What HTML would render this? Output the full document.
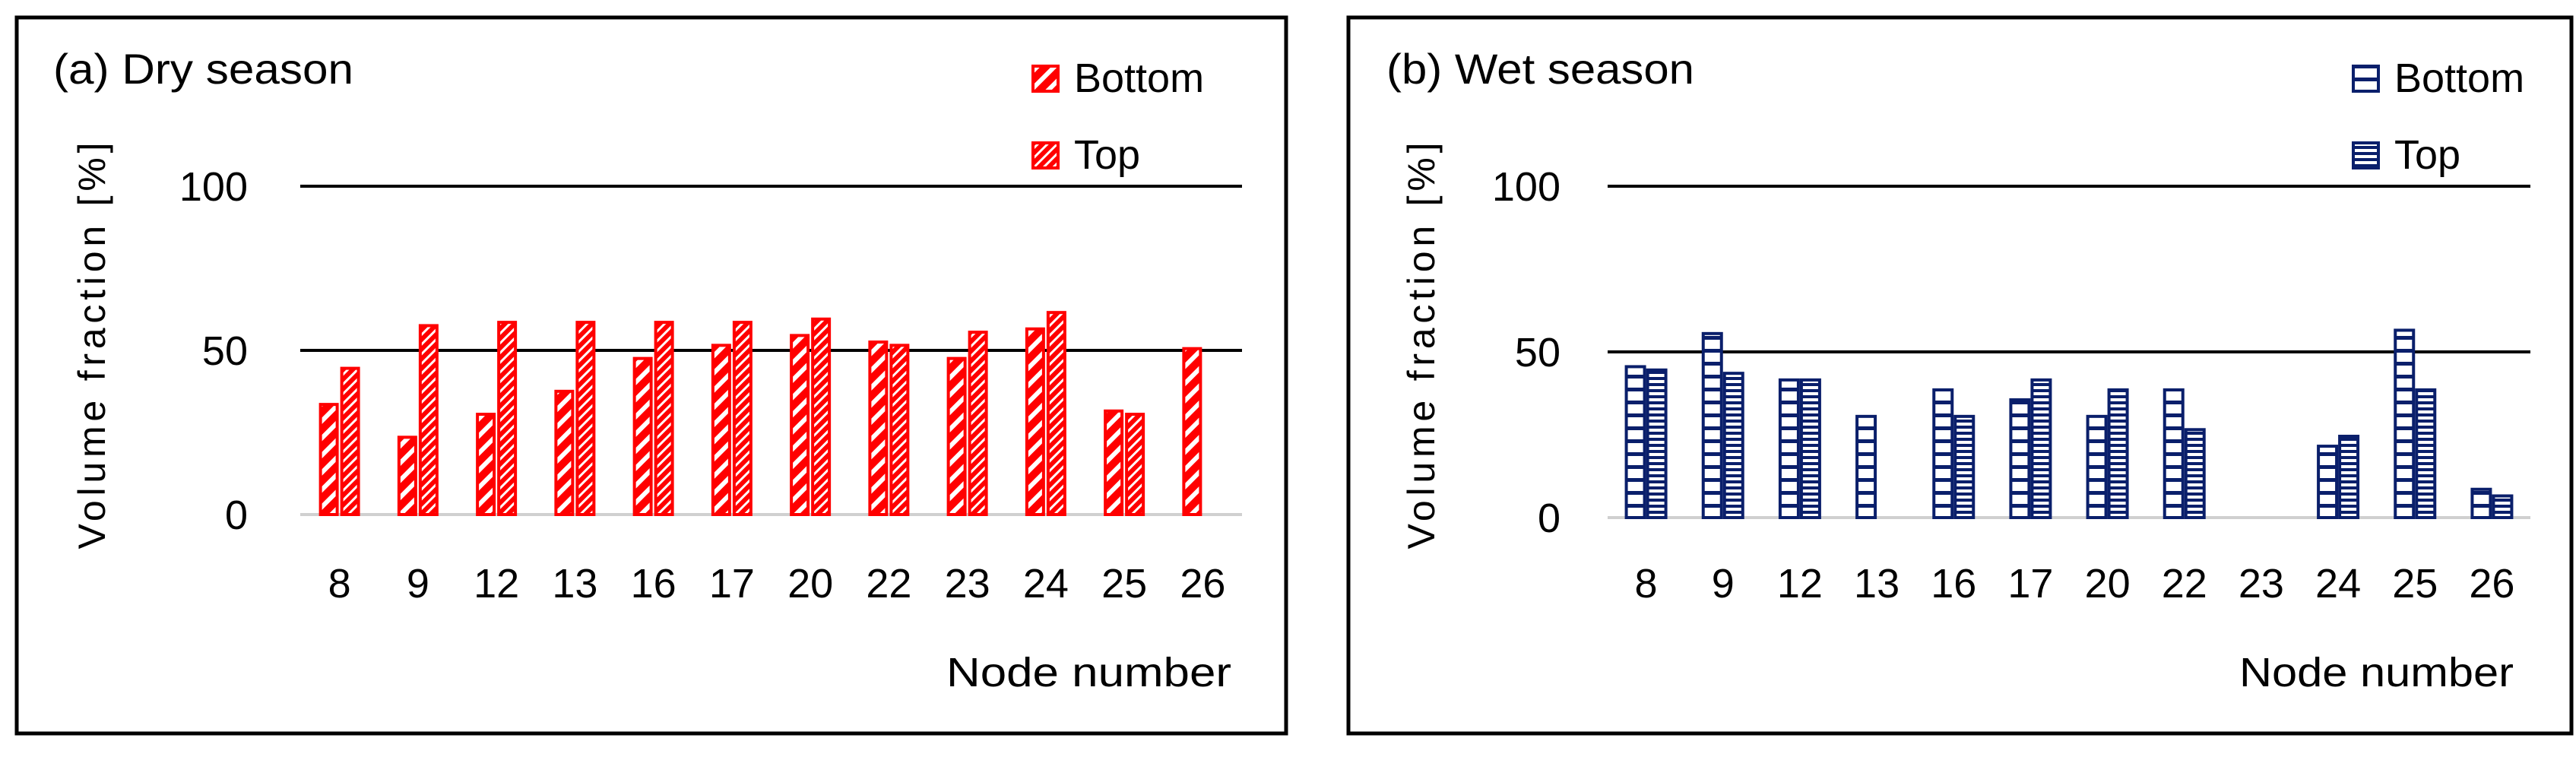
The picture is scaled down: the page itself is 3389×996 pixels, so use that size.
<!DOCTYPE html>
<html><head><meta charset="utf-8"><style>
html,body{margin:0;padding:0;background:#fff}
svg{display:block}
text{font-family:"Liberation Sans",sans-serif}
</style></head><body>
<svg id="fig" width="3389" height="996" viewBox="0 0 3389 996" xmlns="http://www.w3.org/2000/svg">
<defs>
<pattern id="dryBottom" patternUnits="userSpaceOnUse" width="16" height="16" patternTransform="rotate(45)">
<rect width="16" height="16" fill="#ff0000"/><rect x="0" y="0" width="6" height="16" fill="#fff"/></pattern>
<pattern id="dryTop" patternUnits="userSpaceOnUse" width="9" height="9" patternTransform="rotate(45)">
<rect width="9" height="9" fill="#ff0000"/><rect x="0" y="0" width="3" height="9" fill="#fff"/></pattern>
<pattern id="wetBottom" patternUnits="userSpaceOnUse" width="30" height="17">
<rect width="30" height="17" fill="#fff"/><rect x="0" y="0" width="30" height="5" fill="#0a1f6b"/></pattern>
<pattern id="wetTop" patternUnits="userSpaceOnUse" width="30" height="8">
<rect width="30" height="8" fill="#fff"/><rect x="0" y="0" width="30" height="4" fill="#0a1f6b"/></pattern>
</defs>
<g id="panelA"></g>
<g id="panelB"></g>
</svg>
<script>
const categories = ["8","9","12","13","16","17","20","22","23","24","25","26"];
const dryBottom = [34,24,31,38,48,52,55,53,48,57,32,51];
const dryTop = [45,58,59,59,59,59,60,52,56,62,31,null];
const wetBottom = [46,56,42,31,39,36,31,39,null,22,57,9];
const wetTop = [45,44,42,null,31,42,39,27,null,25,39,7];
const yTicks = [0,50,100];

const NS = "http://www.w3.org/2000/svg";
function mk(parent, tag, attrs, txt){
  const e = document.createElementNS(NS, tag);
  for (const k in attrs) e.setAttribute(k, attrs[k]);
  if (txt !== undefined) e.textContent = txt;
  parent.appendChild(e);
  return e;
}

function drawPanel(gid, cfg){
  const g = document.getElementById(gid);
  const frame = mk(g,'rect',{x:cfg.bx+2,y:23,width:cfg.bw,height:942,fill:'none',stroke:'#000','stroke-width':5});
  
  
  const y0 = cfg.y0, y100 = cfg.y100;
  const yScale = v => y0 - (y0 - y100) * v / 100;
  const x0 = cfg.px0, x1 = cfg.px1;
  const band = (x1 - x0) / categories.length;
  const xCenter = i => x0 + band * (i + 0.5);
  yTicks.forEach(t => {
    const y = yScale(t);
    const line = mk(g,'line',{x1:x0,x2:x1,y1:y,y2:y,stroke:t===0?'#d0d0d0':'#000','stroke-width':4});
    
    
    const lab = mk(g,'text',{x:cfg.tickX,y:y+19,'text-anchor':'end','font-size':54,fill:'#000'}, String(t));
    
    
  });
  categories.forEach((c,i) => {
    const cx = xCenter(i);
    const lab = mk(g,'text',{x:cx,y:786,'text-anchor':'middle','font-size':54,fill:'#000'}, c);
    
    
    [[cfg.bottom,cx-cfg.barW-cfg.gap,'bottom',cfg.patB],[cfg.top,cx+cfg.gap,'top',cfg.patT]].forEach(([arr,bx,nm,pat])=>{
      const v = arr[i];
      if (v === null || v === undefined) return;
      const y = yScale(v);
      const r = mk(g,'rect',{x:bx+2,y:y+2,width:cfg.barW-4,height:y0-y-2,fill:'url(#'+pat+')',stroke:cfg.color,'stroke-width':4});
      
      
    });
  });
  const title = mk(g,'text',{x:cfg.titleX,y:110,'font-size':56,fill:'#000',textLength:cfg.titleLen,lengthAdjust:'spacingAndGlyphs'}, cfg.title);
  
  
  const yt = mk(g,'text',{x:0,y:0,'font-size':50,fill:'#000','text-anchor':'middle',textLength:535,lengthAdjust:'spacing',transform:'translate('+cfg.ytX+',455) rotate(-90)'}, 'Volume fraction [%]');
  
  
  const xt = mk(g,'text',{x:cfg.xtX,y:903,'font-size':54,fill:'#000',textLength:cfg.xtLen,lengthAdjust:'spacingAndGlyphs'}, 'Node number');
  
  
  [['Bottom',cfg.patB,85],['Top',cfg.patT,186]].forEach(([name,pat,ly])=>{
    const sw = mk(g,'rect',{x:cfg.legX+2,y:ly+2,width:33,height:33,fill:'url(#'+pat+')',stroke:cfg.color,'stroke-width':4});
    
    
    const lt = mk(g,'text',{x:cfg.legX+56,y:ly+36,'font-size':54,fill:'#000'}, name);
    
    
  });
}

drawPanel('panelA',{key:'dry',bx:20,bw:1670,y0:677,y100:245,px0:395,px1:1634,tickX:326,
  bottom:dryBottom,top:dryTop,patB:'dryBottom',patT:'dryTop',color:'#ff0000',barW:26,gap:1,
  title:'(a) Dry season',titleX:70,titleLen:395,ytX:138,xtX:1245,xtLen:375,legX:1357});
drawPanel('panelB',{key:'wet',bx:1772,bw:1609,y0:681,y100:245,px0:2115,px1:3329,tickX:2053,
  bottom:wetBottom,top:wetTop,patB:'wetBottom',patT:'wetTop',color:'#0a1f6b',barW:28,gap:0,
  title:'(b) Wet season',titleX:1824,titleLen:405,ytX:1887,xtX:2946,xtLen:361,legX:3094});
</script>
</body></html>
